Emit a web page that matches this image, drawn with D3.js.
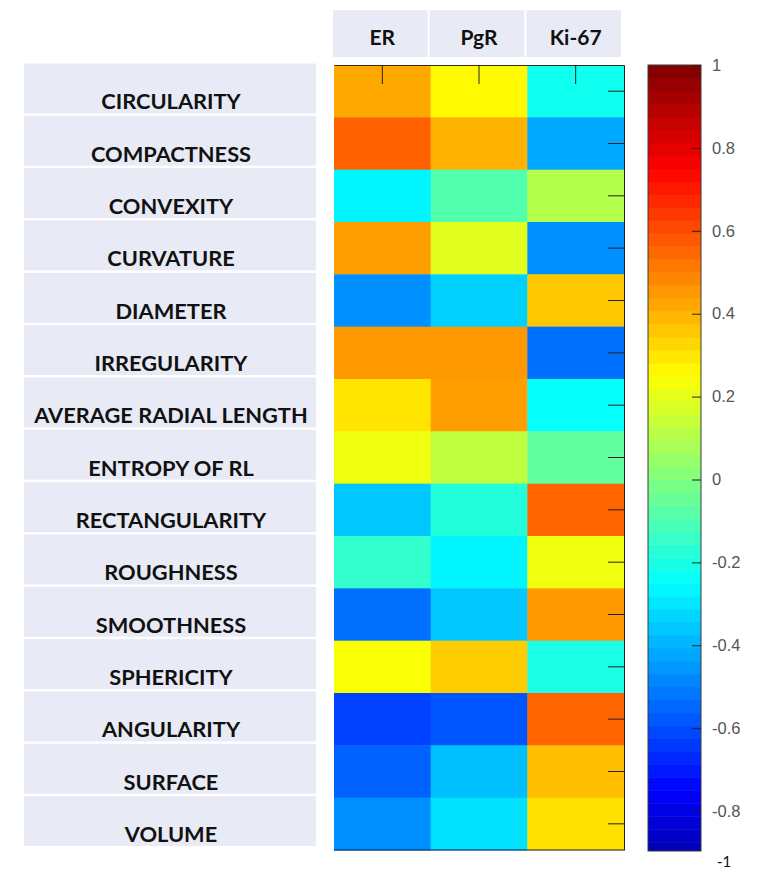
<!DOCTYPE html>
<html>
<head>
<meta charset="utf-8">
<script src="https://cdn.jsdelivr.net/npm/d3@7"></script>
<style>
  body { margin: 0; background: #fff; }
  svg { display: block; }
</style>
</head>
<body>
<script>
// correlation heatmap, jet colours

const features = ["CIRCULARITY", "COMPACTNESS", "CONVEXITY", "CURVATURE", "DIAMETER",
  "IRREGULARITY", "AVERAGE RADIAL LENGTH", "ENTROPY OF RL", "RECTANGULARITY",
  "ROUGHNESS", "SMOOTHNESS", "SPHERICITY", "ANGULARITY", "SURFACE", "VOLUME"];
const markers = ["ER", "PgR", "Ki-67"];
const erValues = [0.42, 0.56, -0.27, 0.44, -0.47, 0.45, 0.30, 0.22, -0.36, -0.15, -0.53, 0.24, -0.62, -0.56, -0.47];
const pgrValues = [0.26, 0.40, -0.09, 0.19, -0.34, 0.45, 0.44, 0.125, -0.18, -0.27, -0.36, 0.35, -0.58, -0.375, -0.31];
const ki67Values = [-0.22, -0.42, 0.10, -0.47, 0.36, -0.53, -0.24, -0.06, 0.55, 0.22, 0.45, -0.20, 0.55, 0.375, 0.31];
const colorTicks = [1, 0.8, 0.6, 0.4, 0.2, 0, -0.2, -0.4, -0.6, -0.8];

const width = 772, height = 871;
const cells = [];
[erValues, pgrValues, ki67Values].forEach((vals, j) => {
  vals.forEach((v, i) => cells.push({ feature: features[i], marker: markers[j], value: v }));
});

// matlab style jet
function jet(v) {
  const t = (v + 1) / 2;
  const c = x => Math.max(0, Math.min(1, x));
  const r = c(Math.min(4 * t - 1.5, -4 * t + 4.5));
  const g = c(Math.min(4 * t - 0.5, -4 * t + 3.5));
  const b = c(Math.min(4 * t + 0.5, -4 * t + 2.5));
  return d3.rgb(r * 255, g * 255, b * 255).formatHex();
}

const svg = d3.select('body').append('svg')
  .attr('width', width)
  .attr('height', height);

const x = d3.scaleBand().domain(markers).range([334, 624]);
const y = d3.scaleBand().domain(features).range([65, 850]);

const boxFill = '#e8ebf5';
const labelFont = 'Lato, "Open Sans", sans-serif';

// header boxes
const head = svg.append('g');
head.selectAll('rect')
  .data(markers)
  .enter()
  .append('rect')
  .attr('x', d => x(d) - 1)
  .attr('y', 10)
  .attr('width', x.bandwidth() - 2)
  .attr('height', 47)
  .attr('fill', boxFill);
head.selectAll('text')
  .data(markers)
  .enter()
  .append('text')
  .text(d => d)
  .attr('x', d => x(d) + x.bandwidth() / 2)
  .attr('y', 45)
  .attr('text-anchor', 'middle')
  .attr('font-family', labelFont)
  .attr('font-weight', 700)
  .attr('font-size', 21)
  .attr('fill', '#111');

// row label boxes
const rows = svg.append('g');
rows.selectAll('rect')
  .data(features)
  .enter()
  .append('rect')
  .attr('x', 24)
  .attr('y', d => y(d) - 1.5)
  .attr('width', 292)
  .attr('height', y.bandwidth() - 2.5)
  .attr('fill', boxFill);
rows.selectAll('text')
  .data(features)
  .enter()
  .append('text')
  .text(d => d)
  .attr('x', 171)
  .attr('y', d => y(d) + y.bandwidth() - 8)
  .attr('text-anchor', 'middle')
  .attr('font-family', labelFont)
  .attr('font-weight', 700)
  .attr('font-size', 21.8)
  .attr('fill', '#111');

// heatmap cells
svg.append('g').selectAll('rect')
  .data(cells)
  .enter()
  .append('rect')
  .attr('x', d => x(d.marker))
  .attr('y', d => y(d.feature))
  .attr('width', x.bandwidth() + 0.5)
  .attr('height', y.bandwidth() + 0.5)
  .attr('fill', d => jet(d.value));

// axes ticks pointing inward, no labels
const xAxis = d3.axisTop(x).tickSizeInner(-19).tickSizeOuter(0).tickFormat('');
const yAxis = d3.axisRight(y).tickSizeInner(-16).tickSizeOuter(0).tickFormat('');
svg.append('g')
  .attr('transform', 'translate(0,65)')
  .call(xAxis)
  .call(g => g.select('.domain').attr('stroke', '#3a2a1a'))
  .call(g => g.selectAll('.tick line').attr('stroke', '#222'));
svg.append('g')
  .attr('transform', 'translate(624,0)')
  .call(yAxis)
  .call(g => g.select('.domain').attr('stroke', '#222'))
  .call(g => g.selectAll('.tick line').attr('stroke', '#222'));
svg.append('line')
  .attr('x1', 334).attr('x2', 624)
  .attr('y1', 850).attr('y2', 850)
  .attr('stroke', '#1a1a50')
  .attr('stroke-width', 1.2);

// colour bar
const barX = 648, barW = 53, barTop = 65, barBottom = 851;
const cScale = d3.scaleLinear().domain([-1, 1]).range([894, 65]);
const steps = d3.range(64).map(i => -1 + i * 2 / 64);

svg.append('clipPath').attr('id', 'barclip')
  .append('rect')
  .attr('x', barX).attr('y', barTop)
  .attr('width', barW).attr('height', barBottom - barTop);

svg.append('g')
  .attr('clip-path', 'url(#barclip)')
  .selectAll('rect')
  .data(steps)
  .enter()
  .append('rect')
  .attr('x', barX)
  .attr('y', d => cScale(d + 2 / 64))
  .attr('width', barW)
  .attr('height', d => cScale(d) - cScale(d + 2 / 64) + 0.5)
  .attr('fill', d => jet(d + 1 / 64));

svg.append('rect')
  .attr('x', barX).attr('y', barTop)
  .attr('width', barW).attr('height', barBottom - barTop)
  .attr('fill', 'none')
  .attr('stroke', '#3a3a3a')
  .attr('stroke-width', 1);

const cAxis = d3.axisRight(cScale)
  .tickValues(colorTicks)
  .tickSizeInner(-9)
  .tickSizeOuter(0)
  .tickPadding(11)
  .tickFormat(d => d3.format('.1~f')(d).replace('\u2212', '-'));

svg.append('g')
  .attr('transform', `translate(${barX + barW},0)`)
  .call(cAxis)
  .call(g => g.select('.domain').remove())
  .call(g => g.selectAll('.tick line').attr('stroke', '#222'))
  .call(g => g.selectAll('.tick text')
    .attr('font-family', '"Liberation Sans", Arial, sans-serif')
    .attr('font-size', 16.5)
    .attr('fill', '#555'));

// bottom label sits under the cropped bar
svg.append('text')
  .text('-1')
  .attr('x', 717)
  .attr('y', barBottom + 16)
  .attr('font-family', labelFont)
  .attr('font-size', 15)
  .attr('fill', '#111');
</script>
</body>
</html>
